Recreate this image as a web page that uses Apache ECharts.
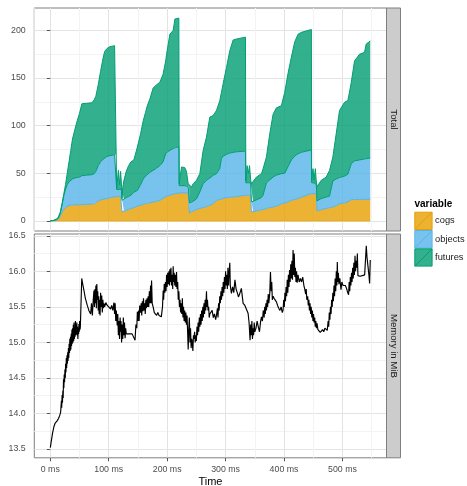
<!DOCTYPE html>
<html>
<head>
<meta charset="utf-8">
<script src="https://cdn.jsdelivr.net/npm/echarts@6/dist/echarts.min.js"></script>
<style>
  html, body { margin: 0; padding: 0; background: #ffffff; }
  #chart { width: 467px; height: 486px; }
</style>
</head>
<body>
<div id="chart"></div>
<script>
// ---- Upper facet: stacked counts over time ----
const timeMs = [0, 5, 10, 13.7, 17, 20, 23, 26, 29, 32, 35, 38, 42, 46, 50, 54, 62, 71, 75, 78, 82, 86, 90, 93, 97, 102, 110, 113,
  113.6, 116.5, 118.5, 120.3, 122, 122.6,
  124, 126, 130, 134, 138, 143, 149, 154.5, 159, 163, 166, 170.4, 176, 182, 187.5, 193, 197.5, 199, 204.6, 210.3, 213.2, 220,
  220.6, 224.6, 227.4, 230, 233, 236, 237.5,
  238.2, 241.7, 244.5, 250.2, 255.9, 261.6, 267.3, 273, 278.7, 284.4, 290, 292.9, 295.8, 301.5, 307.2, 312.9, 318.6, 334,
  334.6, 336.8, 339, 341, 342.9,
  344.2, 347, 352.8, 361.4, 364.2, 369.9, 375.6, 381.3, 387, 395.5, 401.2, 406.9, 412.6, 418.3, 424, 429.7, 446.8,
  447.3, 449.6, 451.3, 453.6, 455.3,
  456.5, 463.7, 472.2, 477.9, 483.6, 489.3, 495, 503.6, 509.3, 515, 520.7, 529.2, 537.8, 540.6, 547.6];

const cogs = [0, 0.2, 0.6, 1.7, 5, 9, 12, 14, 15.5, 16, 16.5, 16.8, 17, 17, 17, 17.2, 17.4, 17.6, 18, 19.5, 21, 22, 22.6, 23, 23.5, 24.2, 25.3, 25.8,
  25.8, 25.8, 25.8, 25.8, 25.8, 9.5,
  10, 10.5, 11, 12, 13, 14, 15.4, 16.5, 17.5, 18.2, 18.9, 19, 19.8, 20.5, 21.6, 23.5, 25.5, 26, 27, 28, 28.5, 29.3,
  29.3, 29.3, 29.3, 29.3, 29.3, 29.3, 29,
  8.4, 9.5, 10.5, 12, 13, 14, 15, 16.4, 18, 21.7, 22.5, 23, 23.5, 24.5, 24.8, 25, 25.5, 27,
  27, 27, 27, 27, 27,
  9.4, 9.8, 10.5, 11.5, 12, 13, 14, 14.7, 15.4, 18, 18.8, 20, 21.6, 22.5, 23.4, 25, 28.6,
  28.6, 28.6, 28.6, 28.6, 28.6,
  10.5, 11.9, 13, 14, 14.7, 16, 18, 19, 19.9, 22.3, 22.4, 22.5, 22.6, 22.6, 22.7];

const objects = [0, 0.1, 0.4, 0.9, 3, 7, 14, 19, 22.5, 25, 26.5, 27.2, 28, 28.5, 29, 30.3, 30.6, 30.9, 31.5, 32.5, 37, 40, 41.9, 43, 44.2, 44.3, 44.2, 44.2,
  7.2, 7.2, 7.2, 7.2, 7.2, 12.1,
  12, 12.5, 13.5, 13.5, 14, 16, 16.6, 21.5, 26.5, 28.8, 30.1, 32, 33.2, 35, 36.4, 38.5, 45.5, 46, 47, 48, 48.5, 48.7,
  7.7, 7.7, 7.7, 7.7, 7.7, 6.7, 7,
  10.5, 10, 10, 11, 17.4, 25, 27.6, 28.6, 29.8, 27.9, 32.3, 42.3, 44.5, 45.3, 46.4, 47, 47, 46.3,
  13, 13, 13, 13, 13,
  10.5, 10.7, 11.5, 13, 15, 27, 29, 31.3, 32.6, 31.6, 31.2, 37, 42.4, 45.5, 47.1, 47, 45.9,
  11.4, 11.4, 11.4, 11.4, 9.4,
  10.5, 11.5, 12, 12, 27.3, 28, 27.5, 28, 29.1, 37.7, 40.6, 41.5, 42.4, 42.9, 43.3];

const futures = [0, 0.2, 0.6, 1.4, 1, 2, 2, 5, 12, 21, 31, 42, 51, 59.5, 67, 75.5, 75.5, 75.5, 77.5, 79, 85, 95, 105.5, 112, 113.3, 114.5, 114.5, 114.6,
  1, 20, 5, 19, 3, 1.9,
  13, 19.6, 27.5, 32.5, 35, 34, 45.5, 53.5, 61, 67, 72, 77, 86.6, 87.5, 87.6, 92, 97, 103, 122, 124, 135, 135,
  2, 19.6, 21.3, 19, 15, 3, 3,
  20.1, 16.1, 18.5, 19.6, 19.2, 35, 45.4, 64, 62.8, 66.4, 71.2, 69.7, 76, 91.2, 107.5, 118, 118.5, 119.7,
  2, 18, 10, 18, 3,
  19.1, 20.3, 24, 25.1, 27.8, 27, 48.4, 66, 70.7, 71.4, 85, 98, 108, 120, 125.5, 126, 126.5,
  2.6, 14.8, 2.6, 14.8, 2.8,
  15, 19.2, 21, 27, 25, 47.4, 70.5, 77.6, 77.4, 85, 105, 111, 112, 120.2, 123];

// ---- Lower facet: memory use over time ----
const memMs = [0, 2, 4, 6, 8, 10, 12, 14, 16, 17.7, 19, 19.5, 20.2, 20.8, 21.5, 22, 22.6, 23.2, 23.8, 24.4, 25, 25.6, 26.2, 26.8,
  27.4, 28, 28.6, 29.2, 29.8, 30.4, 31, 31.6, 32.2, 32.8, 33.4, 34, 34.6, 35.2, 35.8, 36.4, 37, 37.6, 38.2, 38.8, 39.4, 40,
  40.6, 41.2, 41.8, 42.4, 43, 43.6, 44.2, 44.8, 45.4, 46, 46.6, 47.2, 47.8, 48.4, 49, 49.6, 50.2, 50.8, 51.4, 52, 53.4, 53.8,
  55, 57.6, 60, 63.3, 66, 69, 70.5, 72, 73.5, 74.7, 75.5, 76.5, 77.2, 78, 78.8, 79.6, 80.4, 81.2, 82, 82.8, 83.6, 84.4, 85.2,
  86.1, 87, 88, 89, 90, 91, 91.8, 93, 95, 97.5, 100, 103.2, 105, 107, 108.9, 110, 111, 112, 113, 114.6, 115.5, 116.5, 117.5,
  118.5, 119.5, 120.3, 121, 122, 123, 124, 125, 126, 127, 128, 129, 130, 131.7, 134, 137.4, 140, 143.1, 145, 146.5, 148, 149,
  150, 151, 152, 153, 154.5, 155.5, 156.5, 157.5, 158.5, 159.5, 160.5, 161.5, 162.5, 163.5, 164.5, 165.5, 166.5, 167.5, 168.5,
  169.5, 170.5, 171.6, 172.5, 173.3, 174.4, 176, 178, 180, 182, 184, 186, 188, 190, 192, 193.2, 194, 195, 196, 197, 198, 199,
  200, 201, 202, 203, 204, 204.6, 205.5, 206.5, 207.5, 208.5, 209.5, 210.3, 211, 212, 213, 214, 215, 216, 217, 218, 219, 220,
  221, 222, 223, 224, 225, 226, 227, 228, 229, 230, 231, 232, 233, 234, 235, 236, 237, 238, 239, 240, 241, 242, 243, 244, 245,
  246, 247, 248, 249, 250, 251, 252, 253, 254, 255, 256, 257, 258, 259, 260, 261, 262, 263, 264, 265, 266, 267.3, 268, 269,
  270, 271, 272, 273, 275, 277, 279, 281, 283, 284.4, 286, 287, 288, 289, 290, 291, 292, 293, 294, 295, 296, 297, 298, 299,
  300, 301, 302, 303, 304, 305, 306, 307.2, 308, 310, 312, 314, 316, 318, 320, 322, 324, 327, 330, 333, 336, 338.5, 340.3,
  341.9, 343, 344, 345, 346, 347, 348, 349, 350, 352, 354, 356, 358, 360, 361.4, 363, 364.5, 366, 367, 368, 369, 370, 371,
  372, 373, 374, 375.6, 376.8, 378, 379, 380, 381.3, 383, 385, 387, 389, 391, 393, 395, 397, 398.3, 399.5, 400.5, 401.5,
  402.5, 403.5, 404.5, 405.5, 406.5, 407.5, 408.5, 409.5, 410.5, 411.5, 412.5, 413.5, 414.5, 415.5, 416.5, 417.5, 418.5,
  419.5, 420.5, 421.5, 422.5, 424, 426, 428, 430, 432, 434, 435.5, 437, 438, 439, 440.5, 441.5, 442.5, 443.5, 444.5, 445.5,
  446.5, 447.5, 448.5, 449.5, 450.5, 451.5, 452.5, 453.5, 454.5, 455.5, 456.5, 458, 460, 462, 464, 466, 468, 470, 472, 474,
  475.5, 476.5, 477.5, 478.5, 479.5, 480.5, 481.5, 482.5, 483.5, 484.5, 485.5, 486.5, 487.5, 488.5, 489.5, 490.5, 491.2, 492,
  493, 494, 495.5, 497.5, 499, 501, 503, 505, 507, 509, 510.5, 511.5, 512.5, 513.5, 514.5, 515.5, 516.5, 517.5, 518.5, 519.5,
  520.5, 521.5, 522.5, 523.5, 524.5, 525.5, 526.5, 530, 534, 538, 540.8, 542, 543.7, 545.3, 546.5, 547.6];

const memMiB = [13.52, 13.63, 13.73, 13.81, 13.86, 13.88, 13.9, 13.93, 13.97, 14.02, 14.18, 14.08, 14.26, 14.15, 14.32, 14.22,
  14.48, 14.36, 14.55, 14.44, 14.62, 14.5, 14.7, 14.58, 14.78, 14.64, 14.82, 14.7, 14.86, 14.74, 14.92, 14.78, 14.98, 14.85,
  15.05, 14.88, 15.08, 14.9, 15.12, 14.95, 15.18, 14.98, 15.2, 15.0, 15.25, 15.02, 15.28, 15.05, 15.22, 15.08, 15.3, 15.1,
  15.25, 15.12, 15.28, 15.1, 15.22, 15.05, 15.2, 15.12, 15.26, 15.15, 15.3, 15.18, 15.22, 15.2, 15.2, 15.9,
  15.84, 15.73, 15.62, 15.52, 15.45, 15.4, 15.55, 15.38, 15.6, 15.73, 15.5, 15.75, 15.55, 15.8, 15.48, 15.82, 15.6, 15.72,
  15.45, 15.65, 15.4, 15.6, 15.38, 15.7, 15.5, 15.66, 15.42, 15.6, 15.48, 15.55, 15.5, 15.56, 15.52, 15.5, 15.47, 15.52,
  15.45, 15.56, 15.4, 15.55, 15.3, 15.45, 15.24, 15.4, 15.1, 15.3, 15.05, 15.35, 15.15, 15.3, 15.0, 15.25, 15.05, 15.35,
  15.1, 15.28, 15.06, 15.2, 15.12, 15.14, 15.12, 15.1, 15.12, 15.1, 15.03, 15.25, 15.2, 15.43, 15.3, 15.45, 15.3, 15.52,
  15.42, 15.55, 15.38, 15.58, 15.44, 15.62, 15.45, 15.55, 15.4, 15.6, 15.48, 15.62, 15.5, 15.65, 15.5, 15.72, 15.55, 15.8,
  15.55, 15.87, 15.55, 15.5, 15.42, 15.4, 15.38, 15.42, 15.38, 15.4, 15.36, 15.5, 15.73, 15.6, 15.82, 15.7, 15.85, 15.72,
  15.95, 15.78, 15.98, 15.82, 16.0, 15.8, 16.03, 15.85, 16.05, 15.8, 15.95, 15.75, 16.07, 15.85, 15.98, 15.8, 15.95, 15.78,
  15.99, 15.75, 15.85, 15.6, 15.72, 15.5, 15.6, 15.42, 15.55, 15.4, 15.62, 15.35, 15.5, 15.3, 15.45, 15.28, 15.42, 15.25,
  15.38, 15.15, 14.9, 15.2, 15.35, 15.0, 15.2, 14.92, 15.05, 15.0, 14.88, 15.1, 15.05, 15.15, 15.0, 15.1, 15.02, 15.22, 15.1,
  15.28, 15.15, 15.35, 15.22, 15.4, 15.25, 15.45, 15.3, 15.5, 15.35, 15.55, 15.4, 15.6, 15.45, 15.72, 15.5, 15.6, 15.45,
  15.5, 15.35, 15.4, 15.38, 15.45, 15.35, 15.4, 15.32, 15.38, 15.48, 15.35, 15.55, 15.45, 15.65, 15.55, 15.72, 15.6, 15.78,
  15.65, 15.85, 15.7, 15.92, 15.75, 16.0, 15.8, 15.95, 15.75, 16.05, 15.8, 15.98, 16.12, 15.8, 15.69, 15.78, 15.7, 15.88,
  15.75, 15.7, 15.64, 15.68, 15.76, 15.55, 15.52, 15.5, 15.41, 15.27, 15.03, 15.25, 15.1, 15.3, 15.05, 15.2, 15.1, 15.28,
  15.15, 15.2, 15.3, 15.22, 15.15, 15.3, 15.36, 15.3, 15.45, 15.35, 15.5, 15.4, 15.55, 15.45, 15.6, 15.5, 15.68, 15.55,
  15.69, 15.99, 15.72, 15.85, 15.6, 15.65, 15.62, 15.6, 15.57, 15.52, 15.48, 15.45, 15.5, 15.42, 15.45, 15.6, 15.5, 15.7,
  15.58, 15.78, 15.65, 15.88, 15.7, 15.95, 15.78, 16.02, 15.85, 16.1, 15.9, 16.15, 15.88, 16.3, 15.95, 16.25, 15.92, 16.05,
  15.85, 16.0, 15.84, 15.95, 15.85, 15.9, 15.85, 15.92, 15.8, 15.75, 15.68, 15.75, 15.6, 15.65, 15.52, 15.6, 15.45, 15.55,
  15.4, 15.5, 15.35, 15.45, 15.3, 15.4, 15.28, 15.35, 15.22, 15.3, 15.2, 15.27, 15.18, 15.2, 15.14, 15.15, 15.18, 15.15,
  15.2, 15.18, 15.17, 15.3, 15.22, 15.42, 15.32, 15.5, 15.4, 15.6, 15.5, 15.7, 15.58, 15.8, 15.65, 15.9, 15.72, 16.0, 15.8,
  16.13, 15.85, 15.98, 15.82, 15.9, 15.74, 15.85, 15.8, 15.82, 15.8, 15.76, 15.7, 15.67, 15.85, 15.72, 15.92, 15.8, 15.98,
  15.85, 16.05, 15.9, 16.12, 15.95, 16.22, 16.0, 16.15, 16.05, 16.25, 15.94, 15.93, 15.94, 15.95, 16.36, 16.2, 16.22, 15.95,
  15.83, 16.16];

// Tick positions and facet labels
const timeTicks = [0, 100, 200, 300, 400, 500];
const totalTicks = [0, 50, 100, 150, 200];
const memTicks = [13.5, 14.0, 14.5, 15.0, 15.5, 16.0, 16.5];
const seriesNames = ['cogs', 'objects', 'futures'];
const facetLabels = ['Total', 'Memory in MiB'];

// ---- Styling ----
const FONT = '"Liberation Sans", Arial, Helvetica, sans-serif';
const stroke = { cogs: '#E69F00', objects: '#56B4E9', futures: '#009E73' };
const fill = { cogs: 'rgba(230,159,0,0.8)', objects: 'rgba(86,180,233,0.8)', futures: 'rgba(0,158,115,0.8)' };
// each boundary takes the colour of the layer drawn above it
const edge = { cogs: stroke.objects, objects: stroke.futures, futures: stroke.futures };

const PANEL = { left: 34.3, width: 352.2 };
const TOP = { top: 8, height: 223 };
const BOT = { top: 234, height: 223.8 };
const STRIP_W = 14;

const X_MIN = -27.4, X_MAX = 575.4;
const TOTAL_MIN = -10.65, TOTAL_MAX = 223.6;
const MEM_MIN = 13.377, MEM_MAX = 16.525;

const majorGrid = { show: true, lineStyle: { color: '#E3E3E3', width: 1 } };
const minorGrid = { show: true, lineStyle: { color: '#F3F3F3', width: 1 } };
const tickStyle = { color: '#555555', width: 1 };
const labelStyle = { fontSize: 8.8, color: '#4D4D4D', fontFamily: FONT };

function xAxisFor(gridIndex, withLabels) {
  return {
    type: 'value', gridIndex, min: X_MIN, max: X_MAX,
    axisLine: { show: false },
    axisTick: withLabels ? { show: true, length: 3.5, lineStyle: tickStyle, customValues: timeTicks } : { show: false },
    axisLabel: withLabels ? Object.assign({
      show: true, margin: 7.5, customValues: timeTicks,
      formatter: v => v + ' ms'
    }, labelStyle) : { show: false },
    splitLine: majorGrid,
    minorTick: { show: false, splitNumber: 2 },
    minorSplitLine: minorGrid,
    name: withLabels ? 'Time' : '',
    nameLocation: 'middle', nameGap: 18.5,
    nameTextStyle: { fontSize: 11, color: '#000000', fontFamily: FONT }
  };
}

function yAxisFor(gridIndex, min, max, ticks, fmt) {
  return {
    type: 'value', gridIndex, min, max,
    axisLine: { show: false },
    axisTick: { show: true, length: 3.5, lineStyle: tickStyle, customValues: ticks },
    axisLabel: Object.assign({
      show: true, margin: 8.6, customValues: ticks, formatter: fmt
    }, labelStyle),
    splitLine: majorGrid,
    minorTick: { show: false, splitNumber: 2 },
    minorSplitLine: minorGrid
  };
}

// Stacked layers: the value is the first dimension so that stacking
// accumulates counts (not time); encode maps it back onto the y axis.
function stackSeries(name, values) {
  return {
    name, type: 'line', stack: 'total', xAxisIndex: 0, yAxisIndex: 0,
    dimensions: ['count', 'time'],
    encode: { x: 'time', y: 'count' },
    data: timeMs.map((t, i) => [values[i], t]),
    symbol: 'none', showSymbol: false, smooth: false,
    lineStyle: { color: edge[name], width: 1 },
    itemStyle: { color: stroke[name] },
    areaStyle: { color: fill[name], opacity: 1 },
    emphasis: { disabled: true },
    animation: false
  };
}

// outline along the base of the lowest layer
const baseLine = {
  name: 'base', type: 'line', xAxisIndex: 0, yAxisIndex: 0,
  data: [[timeMs[0], 0], [timeMs[timeMs.length - 1], 0]],
  symbol: 'none', showSymbol: false,
  lineStyle: { color: stroke.cogs, width: 1 },
  emphasis: { disabled: true }, animation: false, z: 1
};

const memSeries = {
  name: 'memory', type: 'line', xAxisIndex: 1, yAxisIndex: 1,
  data: memMs.map((t, i) => [t, memMiB[i]]),
  symbol: 'none', showSymbol: false,
  lineStyle: { color: '#000000', width: 1.15 },
  emphasis: { disabled: true },
  animation: false
};

function strip(panel, label) {
  const x = PANEL.left + PANEL.width;
  return [
    { type: 'rect', z: 10, shape: { x: x, y: panel.top, width: STRIP_W, height: panel.height },
      style: { fill: '#CCCCCC', stroke: '#7F7F7F', lineWidth: 1 } },
    { type: 'text', z: 11, x: x + STRIP_W / 2, y: panel.top + panel.height / 2, rotation: -Math.PI / 2,
      style: { text: label, fontSize: 9.6, fontFamily: FONT, fill: '#1A1A1A',
               align: 'center', verticalAlign: 'middle', textAlign: 'center', textVerticalAlign: 'middle' } }
  ];
}

const legendIcon = 'path://M0,0L16,0L16,16L0,16ZM0,16L16,0';

const option = {
  animation: false,
  backgroundColor: '#ffffff',
  textStyle: { fontFamily: FONT },
  title: {
    text: 'variable', left: 414.5, top: 199.5, padding: 0,
    textStyle: { fontSize: 10, fontWeight: 'bold', color: '#000000', fontFamily: FONT }
  },
  legend: {
    orient: 'vertical', left: 414.3, top: 211.7, padding: 0, itemGap: 0,
    itemWidth: 17.3, itemHeight: 17.3, selectedMode: false,
    textStyle: { fontSize: 9.3, color: '#1A1A1A', fontFamily: FONT, padding: [0, 0, 0, -2] },
    data: seriesNames.map(n => ({
      name: n, icon: legendIcon,
      itemStyle: { color: fill[n], borderColor: stroke[n], borderWidth: 1 }
    }))
  },
  grid: [
    { left: PANEL.left, top: TOP.top, width: PANEL.width, height: TOP.height, show: true,
      borderColor: '#7F7F7F', borderWidth: 1, backgroundColor: 'transparent', containLabel: false, outerBoundsMode: 'none' },
    { left: PANEL.left, top: BOT.top, width: PANEL.width, height: BOT.height, show: true,
      borderColor: '#7F7F7F', borderWidth: 1, backgroundColor: 'transparent', containLabel: false, outerBoundsMode: 'none' }
  ],
  xAxis: [xAxisFor(0, false), xAxisFor(1, true)],
  yAxis: [
    yAxisFor(0, TOTAL_MIN, TOTAL_MAX, totalTicks, v => String(Math.round(v))),
    yAxisFor(1, MEM_MIN, MEM_MAX, memTicks, v => Number(v).toFixed(1))
  ],
  series: [
    baseLine,
    stackSeries('cogs', cogs),
    stackSeries('objects', objects),
    stackSeries('futures', futures),
    memSeries
  ],
  graphic: [].concat(strip(TOP, facetLabels[0]), strip(BOT, facetLabels[1]))
};

const chart = echarts.init(document.getElementById('chart'), null, { renderer: 'canvas' });
chart.setOption(option);
</script>
</body>
</html>
